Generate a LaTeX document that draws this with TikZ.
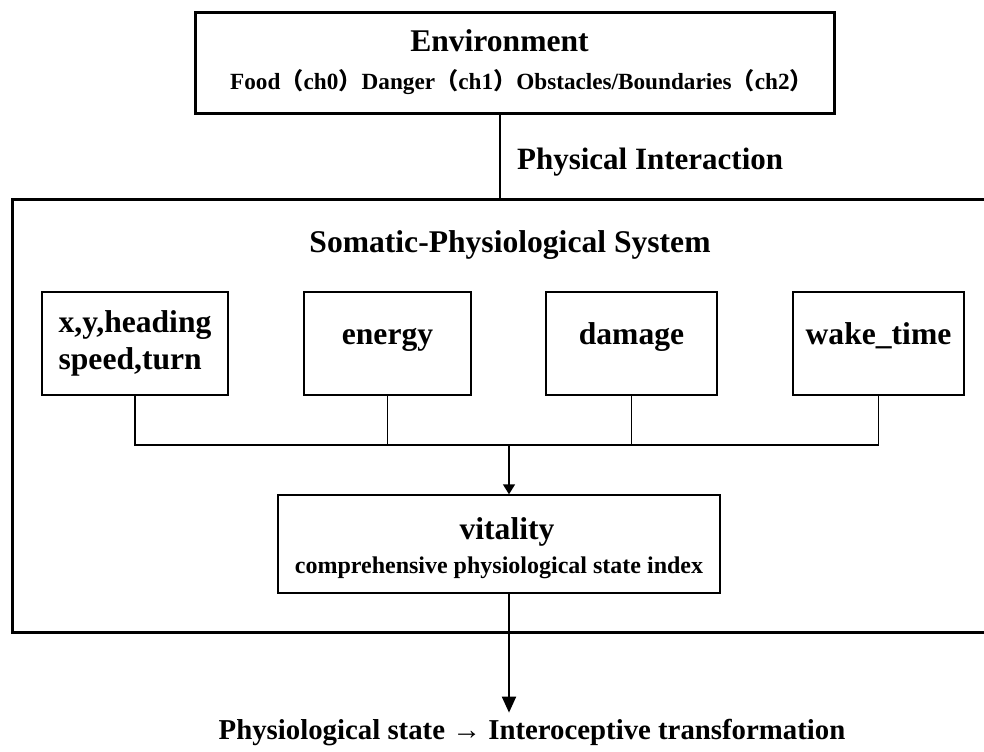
\documentclass[tikz,border=0pt]{standalone}
\usepackage{fontspec}
\setmainfont{Liberation Serif}
\newfontfamily\cjk{Noto Sans CJK SC}
\usetikzlibrary{arrows.meta}

% full-width brackets
\newcommand{\fwl}{{\cjk\bfseries （}}
\newcommand{\fwr}{{\cjk\bfseries ）}}
\newcommand{\titlesize}{\fontsize{15.8}{18.5}\selectfont\bfseries}

\tikzset{
    frame/.style={draw, line width=1.5pt, inner sep=0pt},
    part/.style={draw, line width=0.7pt, inner sep=0pt, font=\titlesize},
    single/.style={part, text height=0.7em, text depth=0.6em},
    title/.style={font=\titlesize},
    link/.style={line width=0.7pt},
}

\begin{document}
\begin{tikzpicture}[x=0.5pt, y=-0.5pt]
    \useasboundingbox (0,0) rectangle (984,751);
    % environment
    \node[frame, minimum width=319.5pt, minimum height=50.5pt, align=center] (env) at (514.5,62.5)
        {\titlesize Environment\kern15pt\\[7pt]
         \fontsize{11.6}{13}\selectfont\bfseries\kern7pt Food\fwl ch0\fwr Danger\fwl ch1\fwr Obstacles/Boundaries\fwl ch2\fwr};
    \coordinate (systop) at (500,199);
    \draw[line width=1.1pt] (env.south -| systop) -- (systop);
    \node[font=\fontsize{15.5}{18}\selectfont\bfseries, anchor=west] (phys) at (510,162) {Physical Interaction};
    % somatic-physiological system
    \draw[line width=1.5pt] (992,199) -| (12,632) -- (992,632);
    \node[title] (sys) at (510,245) {Somatic-Physiological System};
    \node[part, minimum width=93pt, minimum height=51.5pt, align=left] (pose) at (135,343.5) {x,y,heading\\speed,turn};
    \node[single, minimum width=83.5pt, minimum height=51.5pt] (energy) at (387.5,343.5) {energy};
    \node[single, minimum width=85.5pt, minimum height=51.5pt] (damage) at (631.5,343.5) {damage};
    \node[single, minimum width=85.5pt, minimum height=51.5pt] (wake) at (878.5,343.5) {wake\_time};
    \coordinate (merge) at (509,445);
    \draw[link] (pose.south) |- (wake.south |- merge) -- (wake.south);
    \draw[link] (energy.south) -- (energy.south |- merge);
    \draw[link] (damage.south) -- (damage.south |- merge);
    \node[part, minimum width=221pt, minimum height=49pt, align=center] (vit) at (499,544)
        {\titlesize\rule{0pt}{15pt}\kern8pt vitality\\[-1.5pt]
         \fontsize{12}{13}\selectfont\bfseries comprehensive physiological state index};
    \draw[link, -{Triangle[length=5pt, width=6pt]}] (merge) -- (merge |- vit.north);
    % output
    \node[font=\fontsize{14.4}{16}\selectfont\bfseries] (out) at (532,733) {Physiological state → Interoceptive transformation};
    \draw[line width=1pt, -{Triangle[length=8pt, width=7pt]}] (merge |- vit.south) -- (merge |- out.north);
\end{tikzpicture}
\end{document}
